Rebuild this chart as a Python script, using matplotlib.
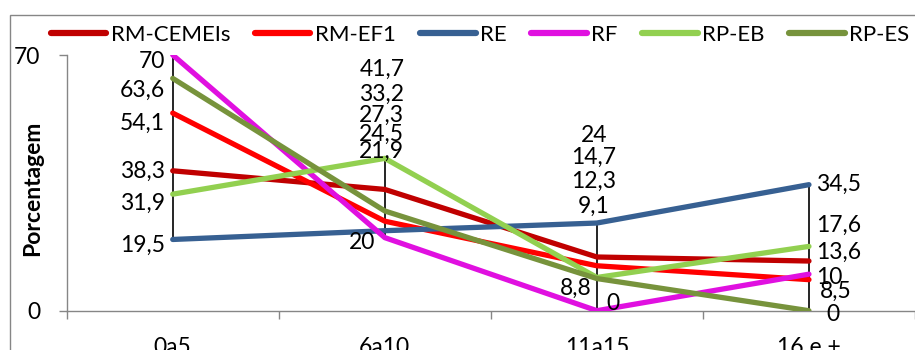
import matplotlib
matplotlib.use("Agg")
import matplotlib.pyplot as plt
from matplotlib.patches import Rectangle
import numpy as np

plt.rcParams['font.family'] = ['Lato', 'DejaVu Sans']

categories = ["0a5", "6a10", "11a15", "16 e +"]
series_names = ["RM-CEMEIs", "RM-EF1", "RE", "RF", "RP-EB", "RP-ES"]
rm_cemeis = [38.3, 33.2, 14.7, 13.6]
rm_ef1 = [54.1, 24.5, 12.3, 8.5]
re_vals = [19.5, 21.9, 24.0, 34.5]
rf_vals = [70.0, 20.0, 0.0, 10.0]
rp_eb = [31.9, 41.7, 9.1, 17.6]
rp_es = [63.6, 27.3, 8.8, 0.0]
y_ticks = [0, 70]
y_label = "Porcentagem"

series_values = [rm_cemeis, rm_ef1, re_vals, rf_vals, rp_eb, rp_es]
colors = ["#C00000", "#FF0000", "#376092", "#E010E0", "#92D050", "#77933C"]

# label offsets in pixels (dx, dy, ha) per series per category
label_offsets = {
    "RM-CEMEIs": [(-8, -1, 'right'), (-3, 95, 'center'), (-3, 100, 'center'), (7, 9, 'left')],
    "RM-EF1":    [(-8, -10, 'right'), (-3, 87, 'center'), (-3, 84, 'center'), (11, -12, 'left')],
    "RE":        [(-8, -5.5, 'right'), (-3, 79, 'center'), (-3, 88, 'center'), (7, 0, 'left')],
    "RF":        [(-8, -7, 'right'), (-10, -5, 'right'), (9.5, 7.7, 'left'), (7, -3, 'left')],
    "RP-EB":     [(-8, -9, 'right'), (-3, 89, 'center'), (-3, 71, 'center'), (7, 21, 'left')],
    "RP-ES":     [(-8, -11.6, 'right'), (-3, 96, 'center'), (-5.5, -9.7, 'right'), (17, -4, 'left')],
}

W, H = 915, 350
fig = plt.figure(figsize=(W / 100, H / 100), dpi=100)
ax = fig.add_axes([66.7 / W, (H - 310.7) / H, (W - 66.7) / W, (310.7 - 55) / H])

x = np.arange(len(categories))

# chart area border
fig.patches.append(Rectangle((10 / W, -0.2), 2, (H - 15) / H + 0.2, transform=fig.transFigure,
                             fill=False, edgecolor="#868686", lw=1.0, zorder=0))

# high-low lines
vals = np.array(series_values)
ax.vlines(x, vals.min(axis=0), vals.max(axis=0), colors="black", lw=1.2, zorder=2)

for name, v, c in zip(series_names, series_values, colors):
    ax.plot(x, v, color=c, lw=3.8, solid_capstyle='round', solid_joinstyle='round',
            label=name, zorder=3)

for name, v in zip(series_names, series_values):
    for i, val in enumerate(v):
        dx, dy, ha = label_offsets[name][i]
        txt = ("%g" % val).replace(".", ",")
        ax.annotate(txt, (x[i], val), xytext=(dx, dy), textcoords='offset pixels',
                    ha=ha, va='center', fontsize=16.5, color='black', zorder=5,
                    annotation_clip=False)

ax.set_xlim(-0.5, (W - 174.4) / 215.5)
ax.set_ylim(0, 70)
ax.set_yticks(y_ticks)
ax.set_yticklabels([str(t) for t in y_ticks])
ax.set_xticks(np.arange(len(categories) + 1) - 0.5)
ax.set_xticklabels([])
ax.set_xticks(x, minor=True)
ax.set_xticklabels(categories, minor=True)
ax.tick_params(axis='x', which='major', length=6, width=1, color="#868686", direction='out')
ax.tick_params(axis='x', which='minor', length=0, pad=19, labelsize=16.5)
ax.tick_params(axis='y', length=6, width=1, color="#868686", direction='out', pad=13, labelsize=16.5)

for s in ['top', 'right']:
    ax.spines[s].set_visible(False)
for s in ['left', 'bottom']:
    ax.spines[s].set_color("#868686")
    ax.spines[s].set_linewidth(1.0)
ax.patch.set_visible(False)

fig.text(33 / W, 1 - 188 / H, y_label, rotation=90, ha='center', va='center',
         fontsize=16.5, fontweight='bold')

leg = fig.legend(*ax.get_legend_handles_labels(), loc='center', ncol=6,
                 bbox_to_anchor=((51 + 909) / 2 / W, 1 - 35 / H), frameon=False,
                 fontsize=16, handlelength=2.5, handletextpad=0.2, columnspacing=1.1,
                 borderaxespad=0, borderpad=0)
for h in leg.get_lines():
    h.set_linewidth(4.5)
    h.set_solid_capstyle('round')

fig.savefig("out.png", dpi=100)
